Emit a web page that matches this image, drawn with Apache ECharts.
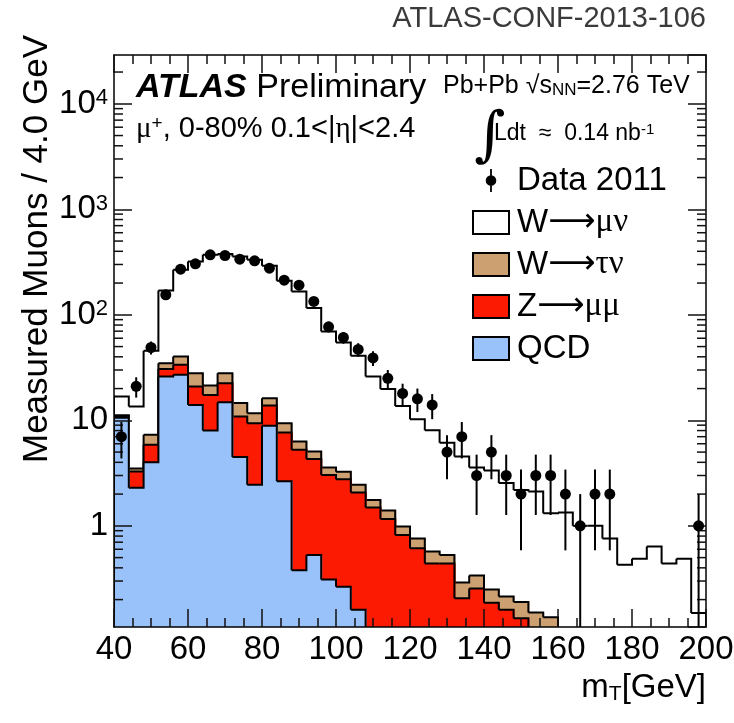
<!DOCTYPE html>
<html>
<head>
<meta charset="utf-8">
<title>Transverse mass of mu+ candidates, Pb+Pb 2011</title>
<script src="https://cdn.jsdelivr.net/npm/echarts@6.0.0/dist/echarts.min.js"></script>
<style>
  html, body { margin: 0; padding: 0; background: #ffffff; }
  #chart { width: 734px; height: 723px; }
</style>
</head>
<body>
<div id="chart"></div>
<script>
// Lower edges of the 4 GeV transverse-mass bins [GeV]
const binLow = [40, 44, 48, 52, 56, 60, 64, 68, 72, 76, 80, 84, 88, 92, 96, 100, 104, 108, 112, 116,
                120, 124, 128, 132, 136, 140, 144, 148, 152, 156, 160, 164, 168, 172, 176, 180, 184, 188, 192, 196];
const binWidth = 4;

// Measured muons per bin (Data 2011)
const dataCounts = [7, 21, 49, 155, 271, 304, 370, 365, 337, 325, 277, 213, 191, 134, 77, 61, 47, 39, 25, 18,
                    16, 14, 5, 7, 3, 5, 3, 2, 3, 3, 2, 1, 2, 2, 0, 0, 0, 0, 0, 1];

// Expected yields per bin for each process
const qcd = [10.6, 2.3, 4.0, 26, 27, 14, 8.0, 14.8, 4.5, 2.45, 8.9, 2.65, 0.38, 0.53, 0.31, 0.265, 0.16, 0, 0, 0,
             0, 0, 0, 0, 0, 0, 0, 0, 0, 0, 0, 0, 0, 0, 0, 0, 0, 0, 0, 0];
const zmumu = [0.4, 0.98, 1.86, 4.6, 6.6, 6.9, 9.4, 7.7, 6.4, 6.95, 4.9, 5.0, 4.87, 3.76, 2.73, 2.5, 1.91, 1.49, 1.16, 0.82,
               0.615, 0.44, 0.44, 0.206, 0.255, 0.187, 0.16, 0.133, 0, 0, 0, 0, 0, 0, 0, 0, 0, 0, 0, 0];
const wtaunu = [0.2, 0.22, 1.44, 4.2, 6.7, 7.1, 4.0, 5.5, 3.7, 2.3, 2.4, 1.74, 1.05, 0.77, 0.53, 0.5, 0.38, 0.27, 0.24, 0.165,
                0.145, 0.13, 0.09, 0.084, 0.083, 0.063, 0.054, 0.057, 0.151, 0.136, 0, 0, 0, 0, 0, 0, 0, 0, 0, 0];
const wmunu = [5.6, 10.0, 38.3, 135, 227, 292, 349, 350, 343, 320, 275, 201, 160, 111, 66, 51.3, 38.5, 24.2, 18.4, 12.7,
               9.5, 7.5, 5.6, 4.25, 3.23, 3.09, 2.33, 2.0, 1.97, 1.18, 1.34, 1.0, 1.0, 0.76, 0.427, 0.487, 0.637, 0.44, 0.487, 0.149];

// Log-axis minor tick multipliers and decades
const yMinorSteps = [2, 3, 4, 5, 6, 7, 8, 9];
const yDecadeExponents = [-1, 0, 1, 2, 3, 4];

const X_MIN = 40, X_MAX = 200;
const Y_MIN = 0.11, Y_MAX = 29000;
const SANS = '"Liberation Sans", Arial, Helvetica, sans-serif';
const SERIF = '"Liberation Serif", "Times New Roman", serif';
const ARROW = '"DejaVu Sans", sans-serif';

// Stack order, bottom to top
const layers = [
  { name: 'QCD',   values: qcd,    color: '#9ac2fa' },
  { name: 'Z→μμ',  values: zmumu,  color: '#fc1a02' },
  { name: 'W→τν',  values: wtaunu, color: '#cca070' },
  { name: 'W→μν',  values: wmunu,  color: '#ffffff' }
];
let running = binLow.map(() => 0);
layers.forEach(layer => {
  running = running.map((s, i) => s + layer.values[i]);
  layer.cumulative = running;
});

function histogramRenderer(color) {
  return function (params, api) {
    const lo = api.value(0), hi = api.value(1), top = api.value(2), next = api.value(3);
    const bottomPx = api.coord([lo, Y_MIN])[1];
    const topPx = api.coord([lo, Y_MAX])[1];
    const yOf = v => v > 0 ? Math.max(topPx, Math.min(bottomPx, api.coord([lo, v])[1])) : bottomPx;
    const x0 = api.coord([lo, Y_MIN])[0];
    const x1 = api.coord([hi, Y_MIN])[0];
    const yt = yOf(top), yn = yOf(next);
    const children = [];
    if (yt < bottomPx) {
      // one extra pixel of overlap hides the seam against the neighbouring bin
      children.push({ type: 'rect', z2: 0, shape: { x: x0, y: yt, width: x1 - x0 + 1, height: bottomPx - yt },
                      style: { fill: color } });
    }
    const pts = [];
    if (lo === binLow[0]) pts.push([x0, bottomPx]);
    pts.push([x0, yt], [x1, yt], [x1, yn]);
    children.push({ type: 'polyline', z2: 1, shape: { points: pts },
                    style: { stroke: '#000', lineWidth: 2, fill: null, lineJoin: 'miter' } });
    return { type: 'group', children };
  };
}

// Histograms drawn top of stack first, so lower layers paint over them
const histogramSeries = layers.slice().reverse().map((layer, k) => {
  const c = layer.cumulative;
  const items = [];
  binLow.forEach((lo, i) => {
    const nxt = i + 1 < binLow.length ? c[i + 1] : 0;
    if (c[i] > 0 || nxt > 0) items.push([lo, lo + binWidth, c[i], nxt]);
  });
  return {
    type: 'custom', name: layer.name, xAxisIndex: 0, yAxisIndex: 0,
    z: 2 + k, clip: true, silent: true,
    itemStyle: { color: layer.color },
    encode: { x: 0, y: 2 },
    renderItem: histogramRenderer(layer.color),
    data: items
  };
});

const points = [];
binLow.forEach((lo, i) => { if (dataCounts[i] > 0) points.push([lo + binWidth / 2, dataCounts[i]]); });

const minorTickValues = [];
yDecadeExponents.forEach(e => yMinorSteps.forEach(m => {
  const v = m * Math.pow(10, e);
  if (v > Y_MIN && v < Y_MAX) minorTickValues.push([X_MIN, v]);
}));

const chart = echarts.init(document.getElementById('chart'), null, { renderer: 'canvas' });

const axisTickStyle = { color: '#111', width: 1.5 };

chart.setOption({
  animation: false,
  backgroundColor: '#ffffff',
  grid: { left: 114, right: 28, top: 55, bottom: 96, containLabel: false, outerBoundsMode: 'none' },
  xAxis: [
    {
      type: 'value', min: X_MIN, max: X_MAX, interval: 20, position: 'bottom', z: 10,
      axisLine: { show: true, onZero: false, lineStyle: { color: '#000', width: 1.5 } },
      axisTick: { show: true, inside: true, length: 18, lineStyle: axisTickStyle },
      minorTick: { show: true, splitNumber: 4, length: 9, lineStyle: axisTickStyle },
      splitLine: { show: false }, minorSplitLine: { show: false },
      axisLabel: { show: true, margin: 6, fontSize: 33, fontFamily: SANS, color: '#000' }
    },
    {
      type: 'value', min: X_MIN, max: X_MAX, interval: 20, position: 'top', z: 10,
      axisLine: { show: true, onZero: false, lineStyle: { color: '#000', width: 1.5 } },
      axisTick: { show: true, inside: true, length: 18, lineStyle: axisTickStyle },
      minorTick: { show: true, splitNumber: 4, length: 9, lineStyle: axisTickStyle },
      splitLine: { show: false }, minorSplitLine: { show: false },
      axisLabel: { show: false }
    }
  ],
  yAxis: [
    {
      type: 'log', logBase: 10, min: Y_MIN, max: Y_MAX, position: 'left', z: 10,
      axisLine: { show: true, onZero: false, lineStyle: { color: '#000', width: 1.5 } },
      axisTick: { show: true, inside: true, length: 18, lineStyle: axisTickStyle },
      splitLine: { show: false },
      axisLabel: {
        show: true, margin: 6, fontSize: 33, fontFamily: SANS, color: '#000',
        showMinLabel: false, showMaxLabel: false,
        formatter: v => {
          const lg = Math.log10(v);
          const e = Math.round(lg);
          if (Math.abs(lg - e) > 1e-6) return '';
          if (e === 0) return '1';
          if (e === 1) return '10';
          if (e < 0) return '';
          return '{b|10}{s|' + e + '}';
        },
        rich: {
          b: { fontSize: 33, fontFamily: SANS, color: '#000' },
          s: { fontSize: 22, fontFamily: SANS, color: '#000', verticalAlign: 'top' }
        }
      }
    },
    {
      type: 'log', logBase: 10, min: Y_MIN, max: Y_MAX, position: 'right', z: 10,
      axisLine: { show: true, onZero: false, lineStyle: { color: '#000', width: 1.5 } },
      axisTick: { show: true, inside: true, length: 18, lineStyle: axisTickStyle },
      splitLine: { show: false },
      axisLabel: { show: false }
    }
  ],
  legend: {
    show: true, orient: 'vertical', left: 472, top: 164, padding: 0,
    itemWidth: 36, itemHeight: 23, itemGap: 9, selectedMode: false,
    symbolKeepAspect: true,
    textStyle: {
      fontSize: 33, fontFamily: SANS, color: '#000', lineHeight: 24, padding: [0, 0, 0, 3],
      rich: {
        a: { fontSize: 33, fontFamily: SANS, color: '#000', lineHeight: 24 },
        r: { fontSize: 33, fontFamily: ARROW, color: '#000', lineHeight: 24 },
        g: { fontSize: 33, fontFamily: SERIF, color: '#000', lineHeight: 24 }
      }
    },
    formatter: name => {
      if (name === 'W→μν') return '{a|W}{r|⟶}{g|μν}';
      if (name === 'W→τν') return '{a|W}{r|⟶}{g|τν}';
      if (name === 'Z→μμ') return '{a|Z}{r|⟶}{g|μμ}';
      return '{a|' + name + '}';
    },
    data: [
      { name: 'Data 2011', icon: 'path://M4.9,0H6.7V23H4.9Z M0.5,11.5A5.3,5.3 0 1,1 11.1,11.5A5.3,5.3 0 1,1 0.5,11.5Z',
        itemStyle: { color: '#000', borderWidth: 0, opacity: 1 } },
      { name: 'W→μν', icon: 'rect', itemStyle: { color: '#ffffff', borderColor: '#000', borderWidth: 2 } },
      { name: 'W→τν', icon: 'rect', itemStyle: { color: '#cca070', borderColor: '#000', borderWidth: 2 } },
      { name: 'Z→μμ', icon: 'rect', itemStyle: { color: '#fc1a02', borderColor: '#000', borderWidth: 2 } },
      { name: 'QCD',   icon: 'rect', itemStyle: { color: '#9ac2fa', borderColor: '#000', borderWidth: 2 } }
    ]
  },
  graphic: [
    { type: 'text', x: 706, y: 19, silent: true,
      style: { text: 'ATLAS-CONF-2013-106', fontSize: 29, fontFamily: SANS, fill: '#3a3a3a', align: 'right', verticalAlign: 'middle' } },
    { type: 'text', x: 136, y: 88, silent: true,
      style: { text: '{a|ATLAS}{b| Preliminary}', align: 'left', verticalAlign: 'middle',
               rich: { a: { fontSize: 34, fontFamily: SANS, fontWeight: 'bold', fontStyle: 'italic', fill: '#000' },
                       b: { fontSize: 34, fontFamily: SANS, fill: '#000' } } } },
    { type: 'text', x: 443, y: 86, silent: true,
      style: { text: '{t|Pb+Pb }{r|√}{t|s}{sub|NN}{t|=2.76 TeV}', align: 'left', verticalAlign: 'middle',
               rich: { t: { fontSize: 25, fontFamily: SANS, fill: '#000' },
                       r: { fontSize: 25, fontFamily: SANS, fill: '#000' },
                       sub: { fontSize: 17, fontFamily: SANS, fill: '#000', verticalAlign: 'bottom' } } } },
    { type: 'text', x: 136, y: 129, silent: true,
      style: { text: '{g|μ}{sup|+}{t|, 0-80% 0.1<|}{g|η}{t||<2.4}', align: 'left', verticalAlign: 'middle',
               rich: { t: { fontSize: 29, fontFamily: SANS, fill: '#000' },
                       g: { fontSize: 29, fontFamily: SERIF, fill: '#000' },
                       sup: { fontSize: 19, fontFamily: SANS, fill: '#000', verticalAlign: 'top' } } } },
    { type: 'text', x: 474, y: 138, silent: true,
      style: { text: '∫', fontSize: 60, fontFamily: '"DejaVu Serif", serif', fill: '#000', align: 'left', verticalAlign: 'middle' } },
    { type: 'text', x: 494, y: 134, silent: true,
      style: { text: '{t|Ldt  ≈  0.14 nb}{sup|-1}', align: 'left', verticalAlign: 'middle',
               rich: { t: { fontSize: 23, fontFamily: SANS, fill: '#000' },
                       sup: { fontSize: 15, fontFamily: SANS, fill: '#000', verticalAlign: 'top' } } } },
    { type: 'text', x: 37, y: 249, rotation: Math.PI / 2, silent: true,
      style: { text: 'Measured Muons / 4.0 GeV', fontSize: 35, fontFamily: SANS, fill: '#000', align: 'center', verticalAlign: 'middle' } },
    { type: 'text', x: 706, y: 688, silent: true,
      style: { text: '{t|m}{sub|T}{t|[GeV]}', align: 'right', verticalAlign: 'middle',
               rich: { t: { fontSize: 33, fontFamily: SANS, fill: '#000' },
                       sub: { fontSize: 21, fontFamily: SANS, fill: '#000', verticalAlign: 'bottom' } } } }
  ],
  series: histogramSeries.concat([
    {
      type: 'custom', name: 'yMinorTicks', xAxisIndex: 0, yAxisIndex: 0, z: 12, silent: true, clip: false,
      encode: { x: 0, y: 1 },
      renderItem: (params, api) => {
        const v = api.value(1);
        const left = api.coord([X_MIN, v]);
        const right = api.coord([X_MAX, v]);
        return { type: 'group', children: [
          { type: 'line', shape: { x1: left[0], y1: left[1], x2: left[0] + 9, y2: left[1] }, style: { stroke: '#111', lineWidth: 1.5 } },
          { type: 'line', shape: { x1: right[0] - 9, y1: right[1], x2: right[0], y2: right[1] }, style: { stroke: '#111', lineWidth: 1.5 } }
        ] };
      },
      data: minorTickValues
    },
    {
      type: 'custom', name: 'dataErrors', xAxisIndex: 0, yAxisIndex: 0, z: 20, silent: true, clip: true,
      encode: { x: 0, y: 1 },
      renderItem: (params, api) => {
        const x = api.value(0), n = api.value(1);
        const err = Math.sqrt(n);
        const bottomPx = api.coord([x, Y_MIN])[1];
        const hiPt = api.coord([x, n + err]);
        const loPx = (n - err) > 0 ? Math.min(bottomPx, api.coord([x, n - err])[1]) : bottomPx;
        return { type: 'line', shape: { x1: hiPt[0], y1: hiPt[1], x2: hiPt[0], y2: loPx },
                 style: { stroke: '#000', lineWidth: 2 } };
      },
      data: points
    },
    {
      type: 'scatter', name: 'Data 2011', xAxisIndex: 0, yAxisIndex: 0, z: 21, silent: true,
      symbol: 'circle', symbolSize: 11,
      itemStyle: { color: '#000', opacity: 1 },
      data: points
    }
  ])
});
</script>
</body>
</html>
